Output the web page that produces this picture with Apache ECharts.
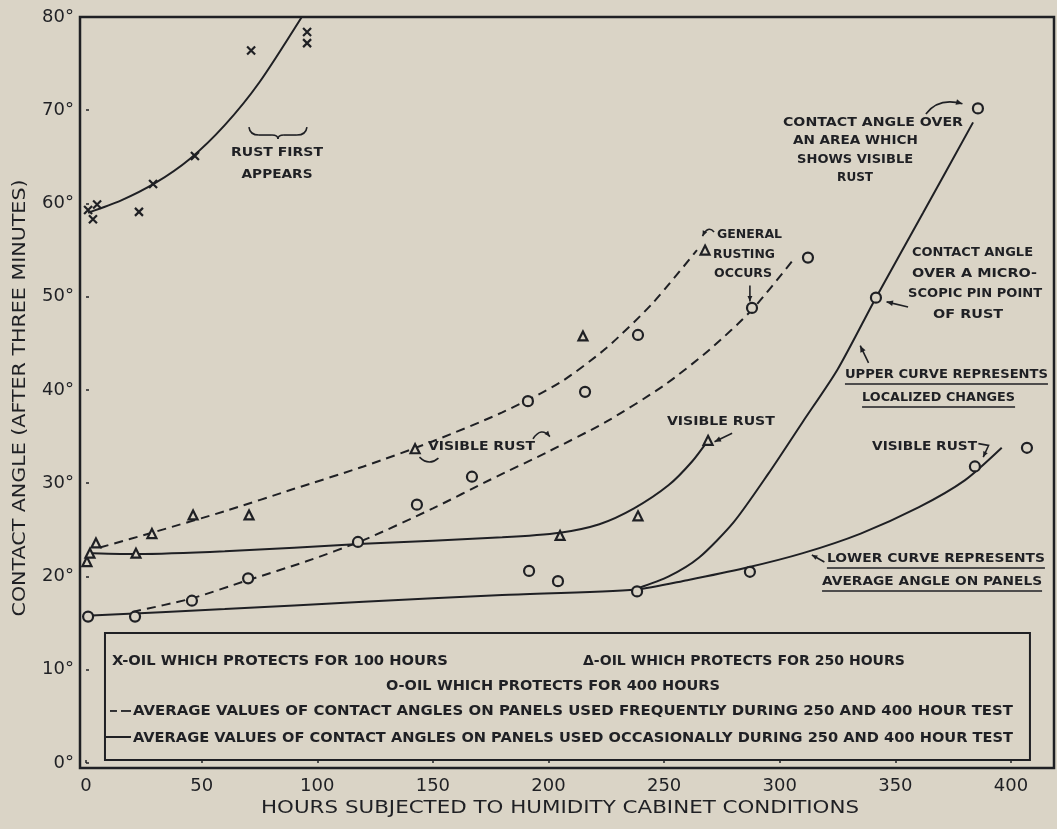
<!DOCTYPE html>
<html>
<head>
<meta charset="utf-8">
<script src="https://cdn.jsdelivr.net/npm/echarts@6/dist/echarts.min.js"></script>
<style>
  html, body { margin: 0; padding: 0; background: #dad4c6; }
  #chart { width: 1057px; height: 829px; }
</style>
</head>
<body>
<div id="chart"></div>
<script>
// Contact angle of oil films on steel panels vs. hours in the humidity cabinet.
// x = hours, y = contact angle (degrees)

const hourTicks = [0, 50, 100, 150, 200, 250, 300, 350, 400];
const angleTicks = [0, 10, 20, 30, 40, 50, 60, 70, 80];

// measured points
const oil100Marks = [[0.9, 59.3], [3.0, 58.3], [4.8, 59.9], [22.9, 59.1], [29.0, 62.1], [47.1, 65.1], [71.4, 76.4], [95.6, 78.4], [95.6, 77.2]];
const oil250Marks = [[0.4, 21.6], [1.7, 22.5], [4.3, 23.6], [21.6, 22.5], [28.5, 24.6], [46.3, 26.6], [70.5, 26.6], [142.3, 33.7], [205.0, 24.4], [214.9, 45.8], [238.7, 26.5], [267.7, 55.0], [269.0, 34.6]];
const oil400Marks = [[0.9, 15.7], [21.2, 15.7], [45.8, 17.4], [70.1, 19.8], [117.6, 23.7], [143.1, 27.7], [166.9, 30.7], [191.1, 38.8], [191.6, 20.6], [204.1, 19.5], [215.8, 39.8], [238.3, 18.4], [238.7, 45.9], [287.1, 20.5], [288.0, 48.8], [312.2, 54.2], [341.6, 49.9], [384.4, 31.8], [385.7, 70.2], [406.9, 33.8]];

// average curves
const oil100Curve = [[0.9, 59.0], [15, 60.3], [30, 62.2], [45, 64.8], [60, 68.4], [75, 73.0], [93.3, 80.0]];
const frequent250Curve = [[6, 23.1], [30, 24.8], [60, 27.0], [90, 29.4], [120, 31.8], [150, 34.5], [180, 37.6], [205, 40.8], [225, 44.5], [245, 49.3], [264.2, 55.0]];
const frequent400Curve = [[20, 16.2], [45, 17.6], [70, 19.6], [95, 21.6], [120, 23.9], [150, 27.3], [175, 30.4], [200, 33.4], [225, 36.6], [250, 40.5], [270, 44.4], [288, 48.6], [306.6, 54.2]];
const occasional250Curve = [[3, 22.5], [22, 22.4], [60, 22.7], [120, 23.5], [180, 24.2], [205, 24.7], [222, 25.6], [237, 27.3], [252, 29.8], [262, 32.3], [269, 34.6]];
const occasional400Curve = [[0, 15.8], [60, 16.5], [120, 17.3], [180, 18.0], [238, 18.6], [260, 19.6], [285, 20.9], [310, 22.5], [335, 24.6], [360, 27.4], [380, 30.3], [396, 33.8]];
const localized400Curve = [[238.3, 18.7], [252, 20.0], [265, 22.0], [280, 25.8], [295, 31.0], [310, 36.6], [325, 42.2], [341.6, 49.9], [362, 59.0], [383.6, 68.7]];

const xTitle = 'HOURS SUBJECTED TO HUMIDITY CABINET CONDITIONS';
const yTitle = 'CONTACT ANGLE (AFTER THREE MINUTES)';
const legendLines = [
  'X-OIL WHICH PROTECTS FOR 100 HOURS',
  'Δ-OIL WHICH PROTECTS FOR 250 HOURS',
  'O-OIL WHICH PROTECTS FOR 400 HOURS',
  'AVERAGE VALUES OF CONTACT ANGLES ON PANELS USED FREQUENTLY DURING 250 AND 400 HOUR TEST',
  'AVERAGE VALUES OF CONTACT ANGLES ON PANELS USED OCCASIONALLY DURING 250 AND 400 HOUR TEST'
];

const ink = '#1f2024';
const paper = '#dad4c6';
const FONT = '"DejaVu Sans", "Liberation Sans", sans-serif';

const chart = echarts.init(document.getElementById('chart'), null, { renderer: 'canvas' });

function curveSeries(data, dashed) {
  return {
    type: 'line', data, showSymbol: false, smooth: 0.25, silent: true, z: 2,
    lineStyle: { color: ink, width: 2, type: dashed ? [9, 6] : 'solid' }
  };
}
function markSeries(data, symbol, size) {
  return {
    type: 'scatter', data, symbol, symbolSize: size, silent: true, z: 3,
    itemStyle: { color: symbol.startsWith('path') ? 'transparent' : paper, borderColor: ink, borderWidth: 2.2, opacity: 1 }
  };
}

chart.setOption({
  backgroundColor: paper,
  animation: false,
  grid: { left: 80, top: 17, width: 974, height: 751, show: true, borderColor: ink, borderWidth: 2.5, backgroundColor: 'transparent' },
  xAxis: {
    type: 'value', min: -2.6, max: 418.6,
    axisLine: { show: false }, splitLine: { show: false },
    axisTick: { show: true, inside: true, length: 3, customValues: hourTicks, lineStyle: { color: ink, width: 1.5 } },
    axisLabel: { customValues: hourTicks, margin: 9, color: ink, fontFamily: FONT, fontSize: 18 }
  },
  yAxis: {
    type: 'value', min: -0.54, max: 80,
    axisLine: { show: false }, splitLine: { show: false },
    axisTick: { show: true, inside: true, length: 3, customValues: angleTicks, lineStyle: { color: ink, width: 1.5 } },
    axisLabel: { customValues: angleTicks, margin: 6, color: ink, fontFamily: FONT, fontSize: 18, formatter: v => v + '°' }
  },
  series: [
    curveSeries(oil100Curve, false),
    curveSeries(frequent250Curve, true),
    curveSeries(frequent400Curve, true),
    curveSeries(occasional250Curve, false),
    curveSeries(occasional400Curve, false),
    curveSeries(localized400Curve, false),
    markSeries(oil100Marks, 'path://M0,0L10,10M10,0L0,10', 8),
    markSeries(oil250Marks, 'triangle', 9),
    markSeries(oil400Marks, 'circle', 10)
  ]
});

// ---------- annotations, titles and key ----------
const P = (h, d) => chart.convertToPixel({ gridIndex: 0 }, [h, d]);
const measureCtx = document.createElement('canvas').getContext('2d');

function fitText(str, x, y, width, size, opts) {
  opts = opts || {};
  const weight = opts.weight || 'bold';
  const align = opts.align || 'left';
  measureCtx.font = weight + ' ' + size + 'px ' + FONT;
  const w = measureCtx.measureText(str).width;
  return {
    type: 'text', x, y, rotation: opts.rotation || 0, scaleX: width / w, scaleY: 1, silent: true, z: 10,
    style: {
      text: str, x: 0, y: 0, fill: ink,
      font: weight + ' ' + size + 'px ' + FONT,
      fontFamily: FONT, fontSize: size, fontWeight: weight,
      align, verticalAlign: 'middle', textAlign: align, textVerticalAlign: 'middle'
    }
  };
}
function seg(a, b, w) {
  return { type: 'line', silent: true, z: 10, shape: { x1: a[0], y1: a[1], x2: b[0], y2: b[1] }, style: { stroke: ink, lineWidth: w || 1.6 } };
}
function quad(a, c, b, w) {
  return { type: 'bezierCurve', silent: true, z: 10, shape: { x1: a[0], y1: a[1], cpx1: c[0], cpy1: c[1], x2: b[0], y2: b[1] }, style: { stroke: ink, fill: null, lineWidth: w || 1.6 } };
}
function head(from, to, len) {
  len = len || 7;
  const a = Math.atan2(to[1] - from[1], to[0] - from[0]);
  const s = 0.42;
  return {
    type: 'polygon', silent: true, z: 10,
    shape: { points: [to, [to[0] - len * Math.cos(a - s), to[1] - len * Math.sin(a - s)], [to[0] - len * Math.cos(a + s), to[1] - len * Math.sin(a + s)]] },
    style: { fill: ink }
  };
}
function underline(x, y, width) {
  return seg([x, y + 9], [x + width, y + 9], 1.5);
}

const g = [];
const A = 12.5; // annotation lettering size

// brace + "RUST FIRST APPEARS"
(function () {
  const [cx, t] = P(83.0, 68.2);
  g.push(quad([cx - 29, t], [cx - 28, t + 8], [cx - 19, t + 8]));
  g.push(seg([cx - 19, t + 8], [cx - 6, t + 8]));
  g.push(quad([cx - 6, t + 8], [cx, t + 8], [cx, t + 12]));
  g.push(quad([cx + 29, t], [cx + 28, t + 8], [cx + 19, t + 8]));
  g.push(seg([cx + 19, t + 8], [cx + 6, t + 8]));
  g.push(quad([cx + 6, t + 8], [cx, t + 8], [cx, t + 12]));
  let p = P(82.6, 65.42); g.push(fitText('RUST FIRST', p[0], p[1], 92, A, { align: 'center' }));
  p = P(82.6, 63.06); g.push(fitText('APPEARS', p[0], p[1], 71, A, { align: 'center' }));
})();

// "GENERAL RUSTING OCCURS"
(function () {
  let p = P(272.9, 56.62); g.push(fitText('GENERAL', p[0], p[1], 65, A));
  p = P(271.1, 54.48); g.push(fitText('RUSTING', p[0], p[1], 62, A));
  p = P(271.6, 52.44); g.push(fitText('OCCURS', p[0], p[1], 58, A));
  const a = P(271.6, 56.94), c = P(269.0, 57.7), b = P(266.6, 56.5);
  g.push(quad(a, c, b)); g.push(head(c, b, 6));
  const d1 = P(287.1, 51.2), d2 = P(287.1, 49.5);
  g.push(seg(d1, d2)); g.push(head(d1, d2, 6));
})();

// "VISIBLE RUST" near the 140-hour triangle
(function () {
  let p = P(147.9, 33.89); g.push(fitText('VISIBLE RUST', p[0], p[1], 107, A));
  const a = P(193.3, 34.75), c = P(196.8, 36.1), b = P(200.6, 35.0);
  g.push(quad(a, c, b)); g.push(head(c, b, 6));
  g.push(quad(P(144.2, 32.8), P(148.3, 31.8), P(152.4, 32.7)));
})();

// "VISIBLE RUST" on the occasional 250-hour curve
(function () {
  let p = P(251.2, 36.57); g.push(fitText('VISIBLE RUST', p[0], p[1], 108, A));
  const a = P(279.4, 35.35), b = P(271.8, 34.45);
  g.push(seg(a, b)); g.push(head(a, b, 7));
})();

// "CONTACT ANGLE OVER AN AREA WHICH SHOWS VISIBLE RUST"
(function () {
  let p = P(301.4, 68.63); g.push(fitText('CONTACT ANGLE OVER', p[0], p[1], 180, A));
  p = P(305.7, 66.7); g.push(fitText('AN AREA WHICH', p[0], p[1], 125, A));
  p = P(307.5, 64.66); g.push(fitText('SHOWS VISIBLE', p[0], p[1], 116, A));
  p = P(324.8, 62.73); g.push(fitText('RUST', p[0], p[1], 36, A));
  const a = P(363.2, 69.6), c = P(368.6, 71.4), b = P(379.0, 70.7);
  g.push(quad(a, c, b)); g.push(head(c, b, 7));
})();

// "CONTACT ANGLE OVER A MICROSCOPIC PIN POINT OF RUST"
(function () {
  let p = P(357.2, 54.69); g.push(fitText('CONTACT ANGLE', p[0], p[1], 121, A));
  p = P(357.2, 52.44); g.push(fitText('OVER A MICRO-', p[0], p[1], 125, A));
  p = P(355.5, 50.29); g.push(fitText('SCOPIC PIN POINT', p[0], p[1], 134, A));
  p = P(366.3, 48.04); g.push(fitText('OF RUST', p[0], p[1], 70, A));
  const a = P(355.5, 48.9), b = P(346.2, 49.45);
  g.push(seg(a, b)); g.push(head(a, b, 7));
})();

// "UPPER CURVE REPRESENTS LOCALIZED CHANGES"
(function () {
  const a = P(338.4, 42.9), b = P(334.8, 44.75);
  g.push(seg(a, b)); g.push(head(a, b, 7));
  let p = P(328.2, 41.61); g.push(fitText('UPPER CURVE REPRESENTS', p[0], p[1], 203, A)); g.push(underline(p[0], p[1], 203));
  p = P(335.6, 39.14); g.push(fitText('LOCALIZED CHANGES', p[0], p[1], 153, A)); g.push(underline(p[0], p[1], 153));
})();

// "VISIBLE RUST" at the right-hand end of the lower curve
(function () {
  let p = P(339.9, 33.89); g.push(fitText('VISIBLE RUST', p[0], p[1], 105, A));
  const a = P(385.9, 34.25), c = P(390.3, 34.05), b = P(388.0, 32.8);
  g.push({ type: 'polyline', silent: true, z: 10, shape: { points: [a, c, b] }, style: { stroke: ink, fill: null, lineWidth: 1.6 } });
  g.push(head(c, b, 6));
})();

// "LOWER CURVE REPRESENTS AVERAGE ANGLE ON PANELS"
(function () {
  const a = P(319.3, 21.55), b = P(313.9, 22.3);
  g.push(seg(a, b)); g.push(head(a, b, 6));
  let p = P(320.4, 21.88); g.push(fitText('LOWER CURVE REPRESENTS', p[0], p[1], 218, A)); g.push(underline(p[0], p[1], 218));
  p = P(318.3, 19.41); g.push(fitText('AVERAGE ANGLE ON PANELS', p[0], p[1], 220, A)); g.push(underline(p[0], p[1], 220));
})();

// key box
(function () {
  const tl = P(8.2, 13.94), br = P(408.2, 0.32);
  const x0 = tl[0], y0 = tl[1];
  g.push({ type: 'rect', silent: true, z: 9, shape: { x: x0, y: y0, width: br[0] - x0, height: br[1] - y0 }, style: { fill: paper, stroke: ink, lineWidth: 2 } });
  const L = 14;
  g.push(fitText(legendLines[0], x0 + 7, y0 + 28, 336, L));
  g.push(fitText(legendLines[1], x0 + 478, y0 + 28, 322, L));
  g.push(fitText(legendLines[2], x0 + 281, y0 + 53, 334, L));
  g.push(seg([x0 + 5, y0 + 78], [x0 + 12, y0 + 78], 1.8));
  g.push(seg([x0 + 16, y0 + 78], [x0 + 26, y0 + 78], 1.8));
  g.push(fitText(legendLines[3], x0 + 28, y0 + 78, 880, L));
  g.push(seg([x0 + 1, y0 + 104], [x0 + 26, y0 + 104], 2));
  g.push(fitText(legendLines[4], x0 + 28, y0 + 105, 880, L));
})();

// axis titles
g.push(fitText(xTitle, 560, 808, 598, 18, { weight: 'normal', align: 'center' }));
g.push(fitText(yTitle, 20, 398, 437, 18, { weight: 'normal', align: 'center', rotation: Math.PI / 2 }));

chart.setOption({ graphic: { elements: g } });
</script>
</body>
</html>
